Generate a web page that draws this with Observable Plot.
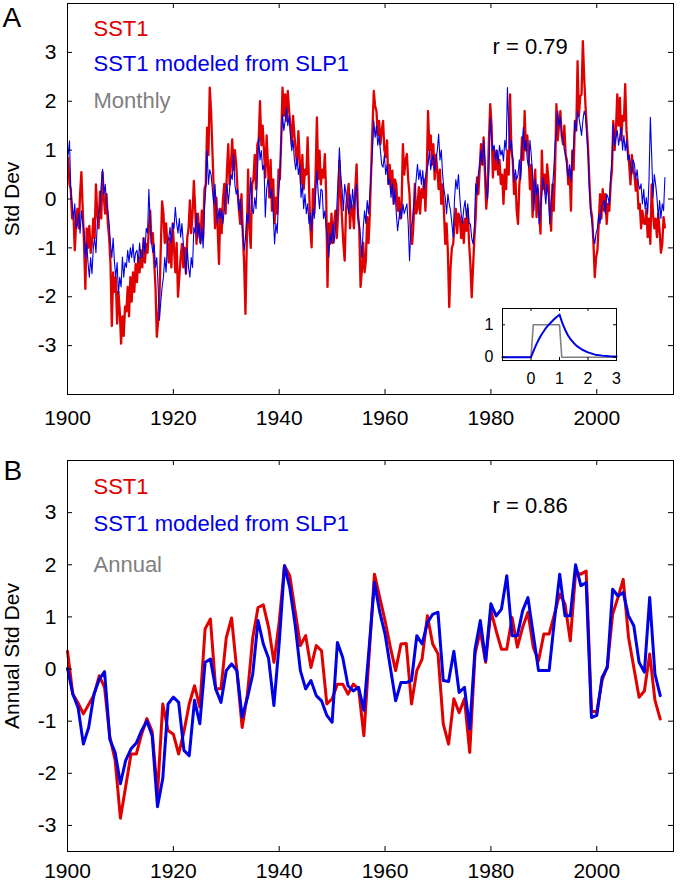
<!DOCTYPE html>
<html><head><meta charset="utf-8">
<script src="https://cdn.jsdelivr.net/npm/d3@7"></script>
<script src="https://cdn.jsdelivr.net/npm/@observablehq/plot@0.6"></script>
<style>
body{margin:0;background:#fff}
#chart{position:relative;width:680px;height:884px;background:#fff;overflow:hidden}
#chart svg{position:absolute;overflow:visible}
</style></head><body><div id="chart"></div>
<script>
const FONT = "'Liberation Sans', Arial, Helvetica, sans-serif";
const RED = "#e00000", BLUE = "#0000e6", GRAY = "#808080";

const xTicks = [1900, 1920, 1940, 1960, 1980, 2000];
const yTicks = [-3, -2, -1, 0, 1, 2, 3];
const insetXTicks = [0, 1, 2, 3];
const insetYTicks = [0, 1];

// Annual series, 1900..2012
const annualYears = d3.range(1900, 2013);
const sst1Annual = [
  0.34,-0.48,-0.65,-0.86,-0.68,-0.5,-0.13,-0.35,-1.3,-1.75,
  -2.86,-2.25,-1.63,-1.63,-1.25,-0.95,-1.2,-2.4,-0.67,-1.18,
  -1.25,-1.63,-1.2,-0.67,-0.32,-0.73,0.77,0.96,-0.38,-0.38,
  0.6,0.98,-0.03,-1.12,-0.48,0.6,1.18,1.23,0.8,0.13,
  0.9,1.98,1.79,1.12,0.45,0.64,0.03,0.45,0.35,-0.67,
  -0.57,-0.29,-0.29,-0.48,-0.29,-0.38,-1.28,0.29,1.82,1.37,
  0.93,0.42,-0.03,0.48,0.49,-0.67,-0.03,0.19,1.02,0.48,
  0.29,-1.05,-1.44,-0.57,-0.84,-0.57,-1.6,0.29,0.73,0.13,
  1.12,0.73,0.38,0.38,0.99,0.42,0.8,1.09,0.42,0.16,
  0.67,0.67,1.05,1.44,1.25,0.54,1.85,1.82,1.88,-0.8,
  -0.83,-0.22,0.06,1.05,1.37,1.72,0.61,0.03,-0.54,-0.42,
  0.29,-0.6,-0.96
];
const modelAnnual = [
  0.01,-0.48,-0.74,-1.44,-1.12,-0.48,-0.2,-0.05,-1.35,-1.6,
  -2.2,-1.75,-1.53,-1.42,-1.18,-1.0,-1.28,-2.64,-2.1,-0.67,
  -0.54,-0.64,-1.56,-1.66,-0.6,-1.05,0.13,0.19,-0.38,-0.64,
  -0.03,0.1,-0.03,-0.92,-0.55,-0.1,0.93,0.48,0.2,-0.7,
  0.5,1.98,1.56,0.86,-0.03,-0.38,-0.22,-0.51,-0.61,-0.89,
  -1.02,0.51,0.22,-0.32,-0.42,-0.35,-0.79,0.42,1.66,1.09,
  0.67,0.03,-0.61,-0.26,-0.26,-0.22,0.64,0.48,0.89,1.05,
  1.09,-0.22,-0.24,0.34,-0.45,-0.35,-1.15,0.38,0.93,0.16,
  1.25,1.02,1.15,1.79,0.64,0.64,1.12,1.37,0.67,-0.03,
  -0.03,-0.03,0.93,1.82,1.02,1.02,2.0,1.6,1.66,-0.93,
  -0.89,-0.16,0.03,1.53,1.4,1.47,1.02,0.83,0.13,-0.06,
  1.37,-0.1,-0.51
];

// Sub-annual series (4 readings per year), 1900..2012
const subStartYear = 1900, perYear = 4;
const sst1Monthly = [
  0.85,0.3,0.2,-0.4,  -0.3,-1.05,-0.5,-0.2,  -0.6,0.1,0.55,-0.2,  -0.9,-1.84,-0.6,-1.0,  -0.55,-1.1,-0.9,-0.4,
  -0.8,0.3,-0.3,-0.6,  0.15,-0.4,0.55,0.0,  -0.3,0.1,-0.5,-0.8,  -1.33,-2.6,-1.5,-1.9,  -1.6,-2.55,-1.9,-2.3,
  -2.96,-2.4,-2.8,-2.2,  -2.3,-1.8,-2.4,-1.6,  -2.1,-1.5,-1.9,-1.33,  -1.7,-1.2,-1.5,-1.05,  -1.4,-0.8,-1.3,-0.92,
  -1.1,-0.6,-0.24,-0.9,  -0.7,-1.3,-1.8,-2.82,  -2.5,-2.0,-1.0,-0.05,  -0.3,-0.9,-0.5,-0.92,  -1.3,-0.8,-1.4,-0.5,
  -1.0,-1.5,-0.9,-2.0,  -1.6,-1.2,-0.92,-1.4,  -1.0,-1.53,-0.8,-0.6,  -0.03,-0.7,-0.3,0.37,  -0.2,-0.92,-0.3,-0.6,
  -0.9,-0.24,-0.8,0.2,  0.3,1.46,0.9,2.28,  1.8,1.0,0.2,-0.6,  0.03,-0.6,-1.33,-0.2,  -0.7,0.0,0.31,-0.3,
  0.58,1.12,0.3,0.7,  1.22,0.6,1.0,0.71,  0.2,-0.2,-0.51,0.1,  -0.7,-1.33,-2.35,-0.9,  0.6,-0.6,-1.0,0.3,
  0.4,0.9,0.2,1.12,  1.2,2.0,1.1,1.5,  0.99,0.44,1.3,0.7,  0.03,0.8,-0.24,0.4,  -0.5,0.03,-0.3,0.6,
  0.4,1.2,2.28,1.7,  2.14,1.6,2.21,1.8,  1.5,1.12,1.7,1.3,  0.99,0.7,1.39,0.8,  0.31,0.9,0.2,0.6,
  0.5,1.26,0.3,-0.58,  -0.99,0.2,-0.3,0.5,  1.67,0.4,0.99,0.3,  0.6,0.44,0.92,0.1,  -1.8,-0.5,-0.92,-0.3,
  -0.9,-0.5,-0.24,-0.8,  -0.3,0.78,0.1,-0.4,  -0.92,-1.26,-0.2,0.1,  0.31,-0.6,-0.1,-0.24,  -0.6,0.2,0.71,-0.3,
  -0.6,-1.8,-1.46,-0.9,  -1.5,-1.26,-0.37,-0.9,  -0.3,0.6,1.46,2.21,  1.9,1.8,1.3,1.6,  1.12,1.4,1.6,1.0,
  0.86,1.2,0.31,0.7,  0.2,0.58,-0.1,0.4,  0.3,-0.24,0.03,-0.4,  -0.1,1.12,0.5,0.8,  0.92,0.4,0.1,-0.78,
  -0.92,-0.5,0.31,-0.3,  -0.2,0.24,-0.3,0.2,  0.03,0.4,-0.24,0.5,  1.8,1.0,1.3,0.7,  1.12,0.4,0.9,0.58,
  0.2,0.6,-0.1,0.3,  -0.24,-0.92,-0.5,-1.1,  -2.21,-1.4,-1.0,-0.92,  -0.5,-0.2,-0.7,-0.3,  -0.37,-0.8,-0.44,-0.9,
  -0.4,-0.65,-0.2,-0.9,  -1.33,-2.01,-1.4,-0.8,  -0.37,0.44,0.1,0.6,  1.12,0.7,1.26,0.5,  -0.2,0.2,1.2,1.94,
  1.5,0.44,1.0,0.6,  0.99,0.5,0.8,0.31,  0.5,-0.1,0.6,0.2,  0.99,0.5,2.14,0.99,  0.8,0.1,0.44,-0.24,
  -0.51,0.3,0.6,1.26,  0.8,1.8,0.99,1.3,  0.9,0.2,0.7,-0.37,  0.3,0.6,-0.37,0.2,  -0.3,-0.71,0.99,0.2,
  0.5,0.1,0.71,0.4,  -0.24,-0.65,0.3,-0.24,  0.6,1.94,1.2,1.5,  1.8,1.3,1.12,1.5,  0.9,0.78,0.3,0.6,
  -0.24,0.99,0.6,1.6,  1.4,2.82,1.7,2.1,  2.14,3.23,2.48,1.9,  1.46,0.99,0.3,-0.2,  -0.37,-0.9,-1.6,-1.2,
  -1.05,-0.5,0.1,-0.4,  0.2,-0.24,0.1,-0.51,  -0.1,-0.24,0.3,0.6,  1.6,1.0,1.4,2.14,  1.5,2.07,1.2,1.7,
  1.6,2.35,1.39,1.0,  0.71,0.3,0.9,0.58,  0.5,0.17,0.4,-0.2,  -0.1,-0.6,-0.24,-0.5,  -0.51,-0.2,-0.78,-0.4,
  -0.92,0.3,-0.31,-0.6,  -0.4,-0.78,-0.3,-0.65,  -1.1,-0.92,-0.37,-0.58
];
const modelMonthly = [
  0.9,1.19,0.2,-0.1,  -0.4,-0.1,-0.6,-0.51,  -0.3,-0.7,-0.24,-0.5,  -0.65,-1.2,-0.9,-1.3,  -1.6,-1.2,-1.53,-1.0,
  -0.8,-1.1,-0.51,-0.3,  -0.2,0.3,0.61,0.1,  0.3,-0.1,-0.24,-0.5,  -0.92,-1.2,-0.8,-1.3,  -1.6,-1.3,-1.94,-1.6,
  -1.8,-1.19,-1.6,-1.3,  -1.4,-1.05,-1.3,-1.0,  -1.2,-0.92,-1.3,-1.1,  -1.05,-1.3,-0.9,-1.2,  -1.19,-0.8,-1.1,-0.6,
  -0.7,0.2,-0.5,-0.9,  -1.1,-0.92,-1.4,-1.2,  -1.8,-2.48,-2.1,-1.8,  -1.6,-1.2,-1.5,-0.9,  -0.8,-0.58,-0.9,-0.5,
  -0.6,-0.17,-0.5,-0.7,  -0.4,-0.78,-0.5,-0.9,  -1.2,-1.53,-1.0,-1.4,  -1.6,-1.2,-1.4,-0.58,  -0.7,-0.3,-0.8,-0.5,
  -0.92,-0.6,-1.0,-0.2,  0.2,0.99,0.3,0.6,  0.5,0.2,-0.1,0.3,  -0.24,-0.51,-0.2,-0.4,  -0.24,-0.5,-0.2,0.1,
  0.31,-0.1,0.2,0.5,  0.4,0.92,0.3,0.1,  0.2,-0.24,0.0,-0.4,  -0.7,-1.05,-0.8,-0.3,  -0.5,-0.1,0.44,-0.2,
  -0.3,0.03,-0.2,0.5,  1.26,0.8,0.99,0.6,  0.7,-0.37,0.2,0.4,  0.3,0.03,0.2,-0.3,  -0.92,-0.5,-0.7,0.03,
  0.5,1.2,1.73,1.4,  1.6,1.87,1.5,1.7,  1.3,0.99,1.2,0.8,  0.6,0.85,0.5,0.7,  0.03,0.3,-0.2,0.1,
  -0.3,-0.1,-0.5,-0.3,  -0.65,-0.2,-0.4,0.1,  0.58,0.1,-0.2,0.2,  0.17,-0.4,-0.24,-0.6,  -0.8,-1.19,-0.7,-0.9,
  -0.51,-0.9,-0.6,-0.2,  0.4,1.05,0.5,0.2,  -0.24,0.3,0.1,-0.1,  -0.3,0.1,-0.2,0.2,  -0.2,0.1,0.31,-0.4,
  -0.5,-0.8,-1.19,-0.6,  -0.24,-0.5,-0.03,-0.3,  0.1,0.5,1.0,1.6,  1.26,1.5,1.1,1.3,  0.99,0.7,0.65,0.9,
  0.5,0.7,0.3,0.4,  0.03,0.31,-0.1,0.2,  -0.3,-0.65,-0.4,-0.2,  -0.4,-0.1,-0.3,-0.2,  -0.1,-0.51,-1.26,-0.6,
  -0.5,-0.17,0.1,0.4,  0.71,0.4,0.6,0.3,  0.58,0.2,0.44,0.6,  0.7,0.99,0.6,0.8,  0.9,0.58,0.8,1.0,
  1.33,0.8,1.0,0.5,  0.2,0.03,-0.3,0.1,  -0.1,-0.24,-0.5,-0.78,  0.0,0.4,0.2,0.5,  0.03,-0.3,-0.5,-0.2,
  -0.03,-0.4,-0.1,-0.5,  -0.51,-0.8,-0.92,-0.6,  0.31,0.1,0.5,0.7,  0.99,0.7,1.19,0.8,  0.2,0.0,0.6,1.67,
  1.3,0.99,1.1,0.8,  1.0,0.71,1.1,0.9,  1.0,0.78,1.2,1.0,  2.28,1.5,1.0,1.2,  0.8,0.35,0.6,0.4,
  0.5,0.8,0.4,1.0,  1.46,1.0,1.2,0.8,  0.65,1.2,0.9,0.5,  -0.24,0.4,0.1,0.3,  -0.51,-0.2,0.1,0.44,
  0.2,-0.1,0.3,0.03,  -0.51,-0.1,0.2,0.6,  1.12,1.4,1.8,1.5,  1.67,1.3,1.26,1.0,  0.9,0.6,0.44,0.7,
  0.37,0.8,1.1,1.6,  1.4,1.8,1.67,1.5,  1.3,1.6,1.8,1.7,  1.3,0.92,0.17,-0.3,  -0.5,-0.78,-0.92,-0.7,
  -0.6,-0.31,-0.5,-0.2,  -0.1,-0.03,-0.3,0.1,  0.03,-0.1,0.44,0.8,  1.53,1.1,1.26,1.4,  1.1,1.3,1.46,1.0,
  1.3,0.99,1.2,0.8,  0.9,0.71,0.5,0.8,  0.71,0.4,0.6,0.3,  0.2,0.31,-0.1,0.2,  -0.2,0.03,-0.3,0.4,
  1.67,0.9,0.03,0.5,  0.3,0.03,-0.4,-0.03,  -0.4,-0.1,-0.24,0.44
];

// Inset: response kernels
const kernelBoxT = [-1, 0, 0.08, 1, 1.08, 3];
const kernelBoxW = [0, 0, 1, 1, 0, 0];
const kernelRespT = [-1, 0, 0.1, 0.2, 0.3, 0.4, 0.5, 0.6, 0.7, 0.8, 0.9, 1.0, 1.1, 1.2, 1.3, 1.4, 1.5, 1.6, 1.8, 2.0, 2.25, 2.5, 2.75, 3.0];
const kernelRespW = [0, 0, 0.22, 0.42, 0.59, 0.74, 0.87, 0.98, 1.07, 1.16, 1.24, 1.31, 1.05, 0.84, 0.67, 0.54, 0.44, 0.35, 0.23, 0.15, 0.08, 0.05, 0.03, 0.02];

const chart = document.getElementById("chart");
const W = 680, ML = 67, MR = 7, INNER_H = 391, INNER_W = W - ML - MR;

function boxTicks(tickLen, xT, yT, innerW, innerH) {
  return [
    Plot.tickX(xT, {x: d => d, insetTop: innerH - tickLen, stroke: "black"}),
    Plot.tickX(xT, {x: d => d, insetBottom: innerH - tickLen, stroke: "black"}),
    Plot.tickY(yT, {y: d => d, insetRight: innerW - tickLen, stroke: "black"}),
    Plot.tickY(yT, {y: d => d, insetLeft: innerW - tickLen, stroke: "black"})
  ];
}

function label(txt, opts) {
  return Plot.text([txt], {text: d => d, lineAnchor: "top", textAnchor: "start", frameAnchor: "top-left", ...opts});
}

function panel({top, height, mTop, xPad, yDomain, xData, red, blue, redW, blueW, letter, ylab, kind, r}) {
  const mBottom = height - mTop - INNER_H;
  const svg = Plot.plot({
    width: W, height,
    marginLeft: ML, marginRight: MR, marginTop: mTop, marginBottom: mBottom,
    style: {fontFamily: FONT, fontSize: "21px", background: "transparent", color: "black"},
    x: {domain: [1900, 2014.5], axis: null},
    y: {domain: yDomain, axis: null},
    marks: [
      Plot.line(red, {x: (d, i) => xData(i), y: d => d, stroke: RED, strokeWidth: redW}),
      Plot.line(blue, {x: (d, i) => xData(i), y: d => d, stroke: BLUE, strokeWidth: blueW}),
      ...boxTicks(5, xTicks, yTicks, INNER_W, INNER_H),
      Plot.frame({stroke: "black", strokeWidth: 1}),
      Plot.axisX({ticks: xTicks, tickSize: 0, tickPadding: xPad, fontSize: 21, tickFormat: d => String(d), label: null}),
      Plot.axisY({ticks: yTicks, tickSize: 0, tickPadding: 11, fontSize: 21, tickFormat: d => String(d), label: null}),
      label(letter.t, {dx: letter.dx, dy: letter.dy, fontSize: 28}),
      label("SST1", {dx: 26, dy: kind.dy[0], fontSize: 22, fill: RED}),
      label("SST1 modeled from SLP1", {dx: 26, dy: kind.dy[1], fontSize: 22, fill: BLUE}),
      label(kind.t, {dx: 26, dy: kind.dy[2], fontSize: 22, fill: GRAY}),
      label(r.t, {dx: 425, dy: r.dy, fontSize: 22}),
      Plot.text([ylab], {text: d => d, frameAnchor: "left", rotate: -90, dx: -55, fontSize: 21, textAnchor: "middle", lineAnchor: "middle"})
    ]
  });
  svg.style.left = "0px";
  svg.style.top = top + "px";
  chart.appendChild(svg);
}

panel({
  top: 0, height: 430, mTop: 3, xPad: 16, yDomain: [-4, 4],
  xData: i => subStartYear + (i + 0.5) / perYear,
  red: sst1Monthly, blue: modelMonthly, redW: 2.3, blueW: 1.1,
  letter: {t: "A", dx: -65, dy: 4},
  ylab: "Std Dev",
  kind: {t: "Monthly", dy: [17, 52, 88.7]},
  r: {t: "r = 0.79", dy: 35}
});

panel({
  top: 430, height: 454, mTop: 30, xPad: 12, yDomain: [-3.5, 4],
  xData: i => annualYears[i],
  red: sst1Annual, blue: modelAnnual, redW: 3, blueW: 3,
  letter: {t: "B", dx: -64, dy: 0},
  ylab: "Annual Std Dev",
  kind: {t: "Annual", dy: [17.5, 54.5, 95.5]},
  r: {t: "r = 0.86", dy: 36.5}
});

// Inset
const IW = 114, IH = 52, IML = 40, IMT = 2;
const inset = Plot.plot({
  width: IML + IW + 4, height: IMT + IH + 28,
  marginLeft: IML, marginRight: 4, marginTop: IMT, marginBottom: 28,
  style: {fontFamily: FONT, fontSize: "16px", background: "transparent", color: "black"},
  x: {domain: [-1, 3], axis: null},
  y: {domain: [-0.1, 1.5], axis: null},
  marks: [
    Plot.frame({fill: "white"}),
    Plot.line(kernelBoxW, {x: (d, i) => kernelBoxT[i], y: d => d, stroke: GRAY, strokeWidth: 1.6}),
    Plot.line(kernelRespW, {x: (d, i) => kernelRespT[i], y: d => d, stroke: BLUE, strokeWidth: 2}),
    ...boxTicks(3, [0, 1, 2], insetYTicks, IW, IH),
    Plot.frame({stroke: "black", strokeWidth: 1}),
    Plot.axisX({ticks: insetXTicks, tickSize: 0, tickPadding: 12, fontSize: 16, tickFormat: d => String(d), label: null}),
    Plot.axisY({ticks: insetYTicks, tickSize: 0, tickPadding: 9, fontSize: 16, tickFormat: d => String(d), label: null})
  ]
});
inset.style.left = (502 - IML) + "px";
inset.style.top = (308 - IMT) + "px";
chart.appendChild(inset);
</script></body></html>
